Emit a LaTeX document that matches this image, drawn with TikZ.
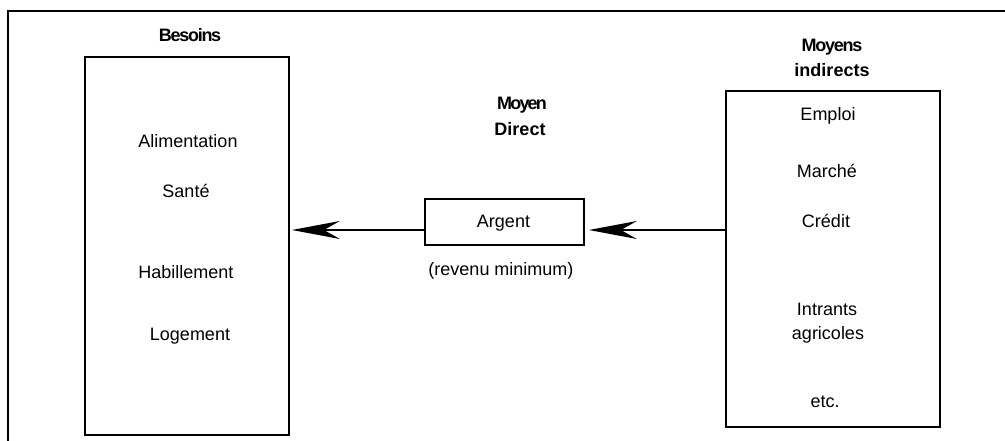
\documentclass[tikz,border=0pt]{standalone}
\usepackage{fontspec}
\setmainfont{Liberation Sans}
\usetikzlibrary{arrows.meta}
\tikzset{
  box/.style={draw, line width=1.8pt, inner sep=0pt},
  frame/.style={draw, line width=1.5pt},
  lbl/.style={anchor=base, inner sep=0pt, font=\fontsize{18}{20}\selectfont},
  head/.style={anchor=base, inner sep=0pt, font=\fontsize{18}{20}\selectfont\bfseries},
  tight/.style={font=\fontsize{18}{20}\selectfont\bfseries\addfontfeatures{LetterSpace=-7}},
  arr/.style={line width=1.6pt, -{Stealth[length=48pt, width=18pt, inset=16pt]}},
}
\begin{document}
\begin{tikzpicture}[x=1pt,y=-1pt]
\useasboundingbox (0,0) rectangle (1005,441);
% outer frame (only top and left edges visible)
\draw[frame] (1005,11) -- (8,11) -- (8,441);
% boxes
\node[box, minimum width=204pt, minimum height=378pt] (besoins) at (187,246) {};
\node[box, minimum width=159pt, minimum height=46pt] (argent) at (504.5,222) {};
\node[box, minimum width=214pt, minimum height=336pt] (indirect) at (833,259) {};
% headings
\node[head, tight] (hbes) at (190,42) {Besoins};
\node[head, tight, font=\fontsize{18}{20}\selectfont\bfseries\addfontfeatures{LetterSpace=-10}] (hmoy) at (522,110) {Moyen};
\node[head] (hdir) at (520,136) {Direct};
\node[head, tight] (hmoys) at (832,52) {Moyens};
\node[head] (hind) at (832,77) {indirects};
% left box texts
\node[lbl] (alim) at (188,148) {Alimentation};
\node[lbl] (sante) at (186,197) {Santé};
\node[lbl] (habil) at (186,278) {Habillement};
\node[lbl] (loge) at (190,340) {Logement};
% middle
\node[lbl] (arg) at (503.5,227) {Argent};
\node[lbl] (rev) at (501,275) {(revenu minimum)};
% right box texts
\node[lbl] (emploi) at (828,121) {Emploi};
\node[lbl] (marche) at (827,178) {Marché};
\node[lbl] (credit) at (826,227) {Crédit};
\node[lbl] (intr) at (827,315) {Intrants};
\node[lbl] (agri) at (828,339) {agricoles};
\node[lbl] (etc) at (825,407) {etc.};
% arrows
\draw[arr, shorten >=2pt] ([yshift=-8pt]argent.west) -- ([yshift=-8pt]argent.west -| besoins.east);
\draw[arr, shorten >=4pt] ([yshift=-8pt]argent.west -| indirect.west) -- ([yshift=-8pt]argent.east);
\end{tikzpicture}
\end{document}
